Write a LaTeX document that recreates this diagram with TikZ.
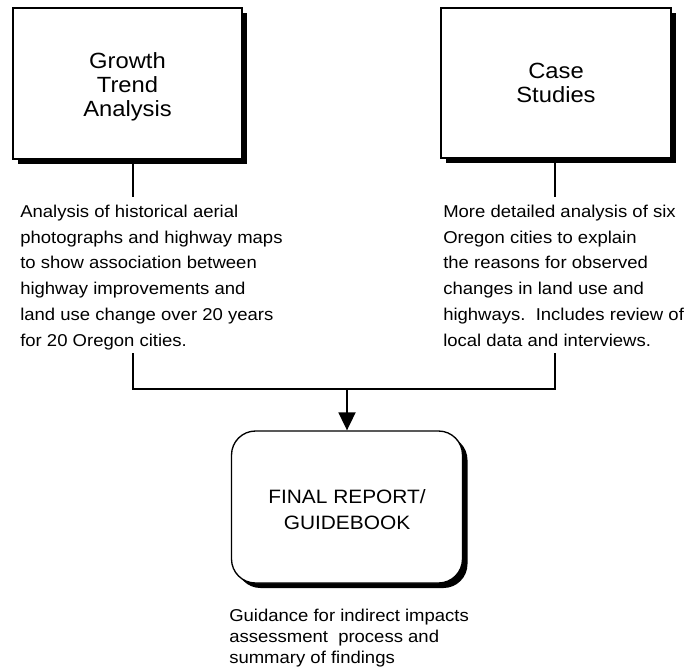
\documentclass[tikz,border=0pt]{standalone}
\usepackage{fontspec}
\setmainfont{Liberation Sans}[FakeStretch=1.08]
\usetikzlibrary{shadows,arrows.meta}
\begin{document}
\begin{tikzpicture}[x=0.75pt,y=-0.75pt,
  box/.style={draw=black, line width=1pt, fill=white, inner sep=0pt,
    drop shadow={shadow xshift=3.75pt, shadow yshift=-3.75pt, opacity=1, fill=black}},
  bigtext/.style={font=\fontsize{16.5}{18.2}\selectfont, align=center},
  fintext/.style={font=\fontsize{14.5}{19.5}\selectfont, align=center},
  body/.style={anchor=base west, inner sep=0pt, font=\fontsize{12.85}{19.3}\selectfont},
  bodytight/.style={anchor=base west, inner sep=0pt, font=\fontsize{12.85}{15.75}\selectfont},
  conn/.style={line width=1.4pt, draw=black},
]
\useasboundingbox (0,0) rectangle (685,669);

\node[box, bigtext, minimum width=171.75pt, minimum height=113.25pt] (gta) at (127.5,83.5) {\rule{0pt}{17pt}Growth\\Trend\\Analysis};
\node[box, bigtext, minimum width=172.5pt, minimum height=112.5pt] (cs) at (556,83) {Case\\Studies};
\node[box, fintext, rounded corners=18pt, minimum width=173.25pt, minimum height=114pt] (fin) at (347,507) {\rule{0pt}{14pt}FINAL REPORT/\\GUIDEBOOK};

\node[body] (gtxt) at (20,217.5) {\parbox[t]{260pt}{\raggedright
Analysis of historical aerial\\
photographs and highway maps\\
to show association between\\
highway improvements and\\
land use change over 20 years\\
for 20 Oregon cities.}};

\node[body] (ctxt) at (443,217.5) {\parbox[t]{200pt}{\raggedright
More detailed analysis of six\\
Oregon cities to explain\\
the reasons for observed\\
changes in land use and\\
highways.\ \ Includes review of\\
local data and interviews.}};

\node[bodytight] (ftxt) at (229,621) {\parbox[t]{240pt}{\raggedright
Guidance for indirect impacts\\
assessment\hspace{0.6em}process and\\
summary of findings}};

\coordinate (g1) at (133,197);
\coordinate (g2) at (133,353);
\coordinate (c1) at (555,197);
\coordinate (c2) at (555,353);
\coordinate (j) at (347,389);

\draw[conn] (gta.south -| g1) -- (g1);
\draw[conn] (cs.south -| c1) -- (c1);
\draw[conn] (g2) |- (c2 |- j) -- (c2);
\draw[conn, -{Triangle[length=13.5pt,width=12.75pt]}] (j) -- (fin.north);
\end{tikzpicture}
\end{document}
